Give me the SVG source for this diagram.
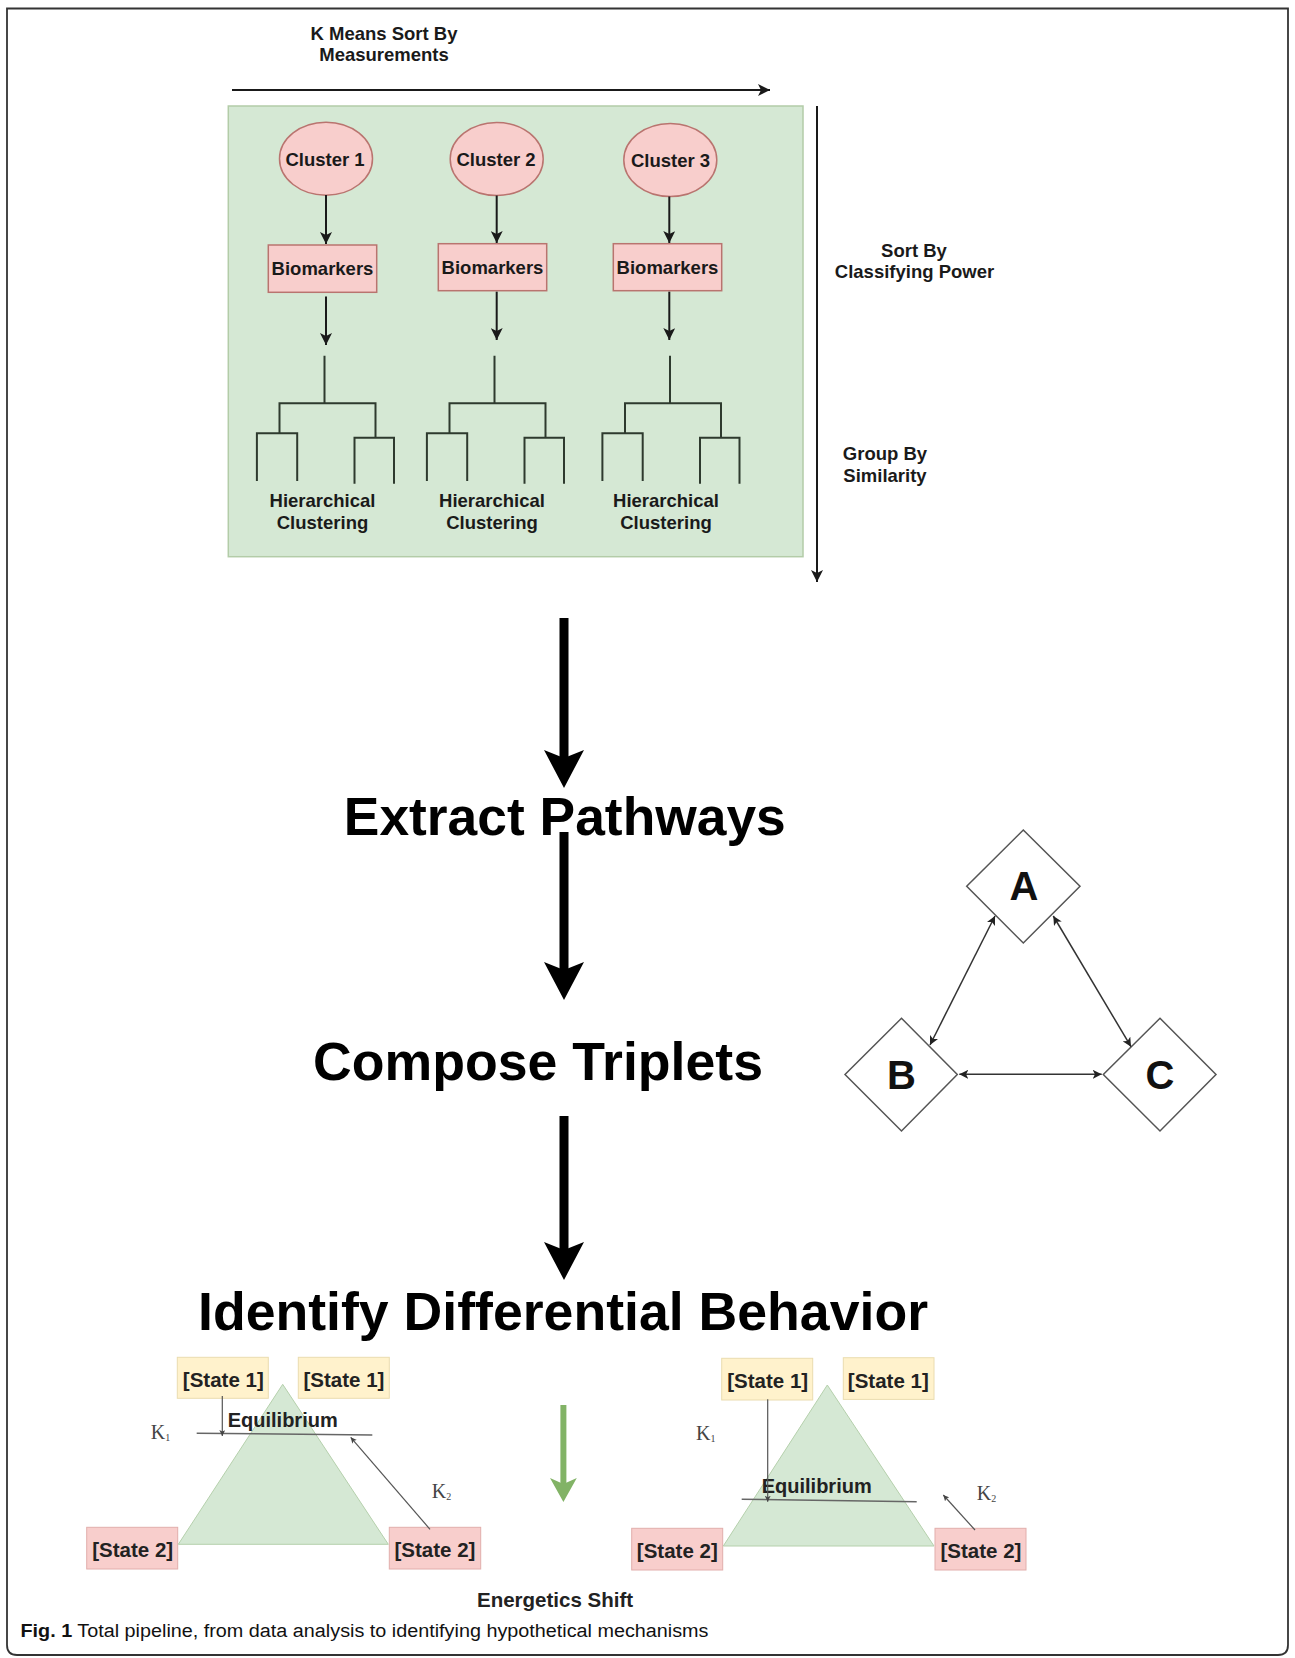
<svg xmlns="http://www.w3.org/2000/svg" width="1295" height="1658" viewBox="0 0 1295 1658">
<defs>
<style>
text{font-family:"Liberation Sans",Arial,sans-serif;fill:#111}
.lbl{font-size:18.5px;font-weight:bold;text-anchor:middle;fill:#1a1a1a}
.big{font-size:53px;font-weight:bold;text-anchor:middle;fill:#000}
.st{font-size:20.5px;font-weight:bold;text-anchor:middle;fill:#222}
.eq{font-size:20px;font-weight:bold;fill:#222}
.k{font-family:"Liberation Serif","Times New Roman",serif;font-size:20px;fill:#444}
.cl{fill:#f8cecc;stroke:#b9746f;stroke-width:1.5}
.s1{fill:#fff2cc;stroke:#eadcb0;stroke-width:1}
.s2{fill:#f8cecc;stroke:#e2aeac;stroke-width:1}
.tri{fill:#d5e8d4;stroke:#b5d0ac;stroke-width:1}
.dn{fill:none;stroke:#2e3a2e;stroke-width:2;stroke-linecap:square}
.ar{fill:none;stroke:#1a1a1a;stroke-width:2}
.thin{fill:none;stroke:#333;stroke-width:1.5}
.kk{fill:none;stroke:#555;stroke-width:1.2}
.dia{fill:#fff;stroke:#555;stroke-width:1.5}
.eqline{stroke:#666;stroke-width:1.5}
</style>
<marker id="ah" viewBox="0 0 12 12" refX="12" refY="6" markerWidth="12" markerHeight="12" markerUnits="userSpaceOnUse" orient="auto"><path d="M0,0 L12,6 L0,12 L3,6 Z" fill="#1a1a1a"/></marker>
<marker id="ah2" viewBox="0 0 10 10" refX="10" refY="5" markerWidth="9" markerHeight="9" markerUnits="userSpaceOnUse" orient="auto-start-reverse"><path d="M0,0 L10,5 L0,10 L2.5,5 Z" fill="#222"/></marker>
<marker id="ahk" viewBox="0 0 10 10" refX="10" refY="5" markerWidth="6" markerHeight="6" markerUnits="userSpaceOnUse" orient="auto"><path d="M0,0 L10,5 L0,10 L2.5,5 Z" fill="#444"/></marker>
</defs>

<rect width="1295" height="1658" fill="#fff"/>
<path id="frame" d="M7,8.5 H1288 V1645 Q1288,1655 1278,1655 H17 Q7,1655 7,1645 Z" fill="none" stroke="#333" stroke-width="1.8"/>

<g id="top-labels">
<text class="lbl" x="384" y="40">K Means Sort By</text>
<text class="lbl" x="384" y="61">Measurements</text>
<text class="lbl" x="914" y="257">Sort By</text>
<text class="lbl" x="914.5" y="277.5">Classifying Power</text>
<text class="lbl" x="885" y="460">Group By</text>
<text class="lbl" x="885" y="482">Similarity</text>
</g>

<rect id="cluster-panel" x="228.3" y="106" width="574.7" height="450.7" fill="#d5e8d4" stroke="#b3cca8" stroke-width="1.5"/>

<g id="cluster1"><ellipse class="cl" cx="326" cy="158.7" rx="46.5" ry="36.5"/><text class="lbl" x="325" y="165.5">Cluster 1</text></g>
<g id="cluster2"><ellipse class="cl" cx="496.7" cy="159" rx="46.5" ry="36.5"/><text class="lbl" x="496" y="165.5">Cluster 2</text></g>
<g id="cluster3"><ellipse class="cl" cx="670.3" cy="160" rx="46.5" ry="36.5"/><text class="lbl" x="670.5" y="167">Cluster 3</text></g>

<g id="biomarkers1"><rect class="cl" x="268.3" y="245" width="108.4" height="47.3"/><text class="lbl" x="322.5" y="275">Biomarkers</text></g>
<g id="biomarkers2"><rect class="cl" x="438.3" y="243.7" width="108.4" height="47"/><text class="lbl" x="492.5" y="274">Biomarkers</text></g>
<g id="biomarkers3"><rect class="cl" x="613.3" y="243.7" width="108.4" height="47"/><text class="lbl" x="667.5" y="274">Biomarkers</text></g>

<g id="hier1"><path class="dn" d="M324.5,356.7 V403.3 M279.5,403.3 H375.5 M279.5,403.3 V433.3 M256.9,433.3 H297.2 M256.9,433.3 V480 M297.2,433.3 V480 M375.5,403.3 V437.7 M354.5,437.7 H394 M354.5,437.7 V482.7 M394,437.7 V482.7"/><text class="lbl" x="322.5" y="507">Hierarchical</text><text class="lbl" x="322.5" y="529">Clustering</text></g>
<g id="hier2"><path class="dn" d="M494.5,356.7 V403.3 M449.5,403.3 H545.5 M449.5,403.3 V433.3 M426.9,433.3 H467.2 M426.9,433.3 V480 M467.2,433.3 V480 M545.5,403.3 V437.7 M524.5,437.7 H564 M524.5,437.7 V482.7 M564,437.7 V482.7"/><text class="lbl" x="492" y="507">Hierarchical</text><text class="lbl" x="492" y="529">Clustering</text></g>
<g id="hier3"><path class="dn" d="M670,356.7 V403.3 M625,403.3 H721 M625,403.3 V433.3 M602.4,433.3 H642.7 M602.4,433.3 V480 M642.7,433.3 V480 M721,403.3 V437.7 M700,437.7 H739.5 M700,437.7 V482.7 M739.5,437.7 V482.7"/><text class="lbl" x="666" y="507">Hierarchical</text><text class="lbl" x="666" y="529">Clustering</text></g>

<g id="steps">
<text class="big" x="564.8" y="834.5" textLength="442" lengthAdjust="spacingAndGlyphs">Extract Pathways</text>
<text class="big" x="538" y="1080" textLength="450" lengthAdjust="spacingAndGlyphs">Compose Triplets</text>
<text class="big" x="563" y="1330" textLength="730" lengthAdjust="spacingAndGlyphs">Identify Differential Behavior</text>
</g>

<g id="nodeA"><polygon class="dia" points="1023.3,830 1080,886.3 1023.3,943 966.7,886.3"/><text x="1024" y="900" font-size="40" font-weight="bold" text-anchor="middle" fill="#000">A</text></g>
<g id="nodeB"><polygon class="dia" points="901.5,1018.3 957.3,1074.5 901.5,1131 845,1074.5"/><text x="901.5" y="1088.5" font-size="40" font-weight="bold" text-anchor="middle" fill="#000">B</text></g>
<g id="nodeC"><polygon class="dia" points="1160,1018.3 1216,1074.5 1160,1131 1103.3,1074.5"/><text x="1160" y="1088.5" font-size="40" font-weight="bold" text-anchor="middle" fill="#000">C</text></g>

<g id="state-left">
<rect class="s1" x="177.3" y="1357.3" width="91" height="41"/>
<rect class="s1" x="298.3" y="1357.3" width="91" height="41"/>
<rect class="s2" x="86.7" y="1527.3" width="91" height="41.7"/>
<rect class="s2" x="389.3" y="1527.3" width="91.4" height="41.7"/>
<polygon class="tri" points="282.7,1384.3 388.3,1544.3 178.3,1544.3"/>
<text class="st" x="223.3" y="1386.7">[State 1]</text>
<text class="st" x="344" y="1386.7">[State 1]</text>
<text class="st" x="132.7" y="1556.7">[State 2]</text>
<text class="st" x="435" y="1556.7">[State 2]</text>
<line class="eqline" x1="196.7" y1="1433.3" x2="372.3" y2="1435"/>
<text class="eq" x="227.7" y="1426.7">Equilibrium</text>
<text class="k" x="150.7" y="1439">K<tspan font-size="10" dy="2">1</tspan></text>
<text class="k" x="431.7" y="1498">K<tspan font-size="10" dy="2">2</tspan></text>
</g>

<g id="state-right">
<rect class="s1" x="721.7" y="1358.3" width="91" height="41.7"/>
<rect class="s1" x="843.3" y="1357.7" width="90.7" height="41.7"/>
<rect class="s2" x="631.7" y="1528.3" width="91" height="41.7"/>
<rect class="s2" x="935" y="1528.3" width="91" height="41.7"/>
<polygon class="tri" points="827.3,1385 934,1546 723.3,1546"/>
<text class="st" x="767.7" y="1388">[State 1]</text>
<text class="st" x="888.3" y="1388">[State 1]</text>
<text class="st" x="677.3" y="1557.7">[State 2]</text>
<text class="st" x="981" y="1557.7">[State 2]</text>
<line class="eqline" x1="741.7" y1="1499.3" x2="916.7" y2="1501.7"/>
<text class="eq" x="761.7" y="1493.3">Equilibrium</text>
<text class="k" x="696" y="1440">K<tspan font-size="10" dy="2">1</tspan></text>
<text class="k" x="976.7" y="1500">K<tspan font-size="10" dy="2">2</tspan></text>
</g>

<text id="energetics" class="st" x="555" y="1607" font-size="20">Energetics Shift</text>

<text id="caption" x="20.5" y="1637" font-size="18" textLength="688" lengthAdjust="spacingAndGlyphs" fill="#222"><tspan font-weight="bold">Fig. 1</tspan> Total pipeline, from data analysis to identifying hypothetical mechanisms</text>

<g id="connectors">
<line class="ar" x1="232" y1="90" x2="770" y2="90" marker-end="url(#ah)"/>
<line class="ar" x1="817" y1="106" x2="817" y2="582" marker-end="url(#ah)"/>
<line class="ar" x1="326" y1="195" x2="326" y2="244" marker-end="url(#ah)"/>
<line class="ar" x1="496.7" y1="195.5" x2="496.7" y2="243" marker-end="url(#ah)"/>
<line class="ar" x1="669.3" y1="196.5" x2="669.3" y2="243" marker-end="url(#ah)"/>
<line class="ar" x1="326" y1="296.5" x2="326" y2="345" marker-end="url(#ah)"/>
<line class="ar" x1="496.7" y1="291.7" x2="496.7" y2="340" marker-end="url(#ah)"/>
<line class="ar" x1="669.3" y1="291.7" x2="669.3" y2="340" marker-end="url(#ah)"/>

<line x1="564" y1="618" x2="564" y2="760" stroke="#000" stroke-width="9"/>
<path d="M544,750 L564,788 L584,750 L564,758 Z" fill="#000"/>
<line x1="564" y1="832" x2="564" y2="972" stroke="#000" stroke-width="9"/>
<path d="M544,962 L564,1000 L584,962 L564,970 Z" fill="#000"/>
<line x1="564" y1="1116" x2="564" y2="1252" stroke="#000" stroke-width="9"/>
<path d="M544,1242 L564,1280 L584,1242 L564,1250 Z" fill="#000"/>

<line class="thin" x1="995" y1="916" x2="930" y2="1045" marker-start="url(#ah2)" marker-end="url(#ah2)"/>
<line class="thin" x1="1053.3" y1="916" x2="1131" y2="1046.7" marker-start="url(#ah2)" marker-end="url(#ah2)"/>
<line class="thin" x1="959.3" y1="1074.3" x2="1101.7" y2="1074.3" marker-start="url(#ah2)" marker-end="url(#ah2)"/>

<line class="kk" x1="222.3" y1="1396" x2="222.3" y2="1436" marker-end="url(#ahk)"/>
<line class="kk" x1="430" y1="1529.3" x2="350.7" y2="1437.3" marker-end="url(#ahk)"/>
<line class="kk" x1="767.7" y1="1399.3" x2="767.7" y2="1501.7" marker-end="url(#ahk)"/>
<line class="kk" x1="975" y1="1530" x2="943.3" y2="1495" marker-end="url(#ahk)"/>

<line x1="563.4" y1="1405" x2="563.4" y2="1488" stroke="#82b366" stroke-width="6"/>
<path d="M550,1478 L563.4,1502 L576.8,1478 L563.4,1484 Z" fill="#82b366"/>
</g>
</svg>
